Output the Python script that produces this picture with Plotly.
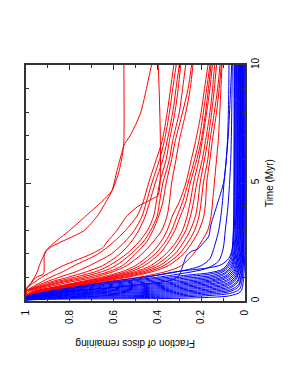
import plotly.graph_objects as go

# Time grid (Myr) for the bulk of the red (slow-dispersing) tracks
RED_T = [0, 0.2, 0.4, 0.6, 0.8, 1.0, 1.25, 1.5, 2.0, 2.5, 3.0, 3.6, 4.2, 5.0, 6.0, 6.8, 8.0, 9.0, 10.0]
RED_F = [
    [1, 1, 1, 0.97, 0.93, 0.89, 0.83, 0.78, 0.67, 0.60, 0.545, 0.493, 0.465, 0.44, 0.405, 0.378, 0.355, 0.34, 0.325],
    [1, 1, 1, 0.96, 0.91, 0.85, 0.77, 0.71, 0.61, 0.55, 0.505, 0.47, 0.45, 0.425, 0.39, 0.368, 0.345, 0.33, 0.314],
    [1, 1, 1, 0.95, 0.89, 0.81, 0.72, 0.65, 0.57, 0.52, 0.485, 0.455, 0.435, 0.41, 0.375, 0.355, 0.33, 0.315, 0.30],
    [1, 1, 1, 0.94, 0.87, 0.78, 0.68, 0.62, 0.54, 0.485, 0.445, 0.417, 0.405, 0.39, 0.36, 0.345, 0.32, 0.305, 0.294],
    [1, 1, 1, 0.93, 0.85, 0.75, 0.65, 0.59, 0.52, 0.465, 0.43, 0.401, 0.39, 0.375, 0.345, 0.33, 0.30, 0.285, 0.271],
    [1, 1, 0.99, 0.92, 0.83, 0.72, 0.62, 0.56, 0.50, 0.45, 0.42, 0.394, 0.375, 0.36, 0.335, 0.318, 0.285, 0.26, 0.244],
    [1, 1, 0.98, 0.90, 0.80, 0.69, 0.60, 0.54, 0.47, 0.42, 0.38, 0.356, 0.345, 0.335, 0.315, 0.30, 0.27, 0.25, 0.238],
    [1, 1, 0.97, 0.87, 0.76, 0.66, 0.56, 0.50, 0.43, 0.385, 0.355, 0.332, 0.30, 0.27, 0.245, 0.225, 0.20, 0.185, 0.169],
    [1, 1, 0.96, 0.86, 0.75, 0.64, 0.54, 0.48, 0.41, 0.365, 0.335, 0.31, 0.285, 0.26, 0.23, 0.21, 0.19, 0.175, 0.16],
    [1, 1, 0.96, 0.85, 0.74, 0.63, 0.52, 0.46, 0.39, 0.35, 0.32, 0.295, 0.27, 0.25, 0.22, 0.20, 0.18, 0.167, 0.155],
    [1, 1, 0.95, 0.84, 0.72, 0.61, 0.50, 0.43, 0.36, 0.315, 0.285, 0.264, 0.25, 0.235, 0.21, 0.195, 0.175, 0.16, 0.149],
    [1, 1, 0.95, 0.83, 0.71, 0.60, 0.48, 0.41, 0.34, 0.30, 0.27, 0.249, 0.235, 0.22, 0.195, 0.18, 0.16, 0.148, 0.139],
    [1, 1, 0.94, 0.82, 0.70, 0.58, 0.46, 0.39, 0.32, 0.28, 0.25, 0.226, 0.215, 0.205, 0.185, 0.17, 0.152, 0.14, 0.13],
    [1, 1, 0.94, 0.81, 0.69, 0.56, 0.44, 0.37, 0.30, 0.26, 0.23, 0.21, 0.20, 0.19, 0.17, 0.16, 0.14, 0.125, 0.114],
    [1, 1, 0.93, 0.80, 0.67, 0.54, 0.42, 0.35, 0.28, 0.24, 0.21, 0.188, 0.18, 0.175, 0.16, 0.149, 0.13, 0.118, 0.108],
    [1, 1, 0.92, 0.79, 0.65, 0.49, 0.36, 0.29, 0.235, 0.20, 0.17, 0.155, 0.148, 0.14, 0.13, 0.122, 0.115, 0.11, 0.105],
]

# Red tracks with their own sampling (kinks / flat tails)
RED_EXTRA_T = [
    [0, 0.45, 0.7, 1.0, 1.15, 2.05, 2.4, 3.0, 3.6, 4.2, 4.68, 5.5, 6.3, 6.8, 10.0],
    [0, 0.5, 0.8, 1.2, 1.6, 2.2, 2.97, 3.6, 4.2, 4.68, 5.5, 6.2, 6.6, 7.03, 7.96, 9.0, 10.0],
    [0, 0.5, 0.8, 1.0, 1.5, 2.0, 2.26, 2.5, 3.0, 3.6, 4.0, 4.3, 4.5, 10.0],
]
RED_EXTRA_F = [
    [1, 1, 0.98, 0.955, 0.92, 0.915, 0.88, 0.80, 0.727, 0.655, 0.607, 0.575, 0.558, 0.553, 0.553],
    [1, 1, 0.975, 0.95, 0.935, 0.90, 0.737, 0.674, 0.635, 0.607, 0.585, 0.565, 0.553, 0.523, 0.477, 0.45, 0.427],
    [1, 1, 0.96, 0.93, 0.83, 0.70, 0.65, 0.63, 0.584, 0.54, 0.49, 0.43, 0.396, 0.396],
]

# Blue (fast-dispersing) tracks
BLUE_T = [
    [0, 0.02, 0.11, 0.16, 0.22, 0.40, 1.0, 10],
    [0, 0.03, 0.17, 0.24, 0.32, 0.50, 1.2, 10],
    [0, 0.04, 0.22, 0.30, 0.40, 0.60, 1.3, 10],
    [0, 0.05, 0.27, 0.36, 0.46, 0.70, 1.4, 10],
    [0, 0.05, 0.32, 0.41, 0.52, 0.78, 1.5, 10],
    [0, 0.06, 0.37, 0.47, 0.58, 0.85, 1.6, 10],
    [0, 0.07, 0.42, 0.52, 0.64, 0.92, 1.7, 10],
    [0, 0.07, 0.47, 0.58, 0.70, 1.00, 1.8, 10],
    [0, 0.08, 0.52, 0.63, 0.76, 1.06, 1.9, 10],
    [0, 0.09, 0.57, 0.69, 0.82, 1.12, 2.0, 10],
    [0, 0.09, 0.62, 0.74, 0.88, 1.18, 2.1, 10],
    [0, 0.10, 0.67, 0.80, 0.94, 1.25, 2.2, 10],
    [0, 0.11, 0.72, 0.85, 1.00, 1.32, 2.3, 10],
    [0, 0.12, 0.77, 0.90, 1.06, 1.40, 2.4, 10],
    [0, 0.12, 0.82, 0.96, 1.12, 1.46, 2.5, 10],
    [0, 0.13, 0.88, 1.02, 1.18, 1.52, 2.6, 10],
    [0, 0.14, 0.94, 1.08, 1.24, 1.60, 2.7, 10],
    [0, 0.15, 1.00, 1.14, 1.30, 1.68, 2.8, 10],
    [0, 0.16, 1.06, 1.20, 1.36, 1.76, 2.9, 10],
    [0, 0.15, 0.72, 0.92, 1.24, 1.40, 1.53, 1.8, 2.2, 3.0, 10],
    [0, 0.15, 0.70, 1.20, 1.50, 1.80, 2.30, 3.0, 4.0, 5.1, 6.8, 8.5, 10],
    [0, 0.14, 0.65, 1.10, 1.40, 1.70, 2.20, 3.0, 4.0, 6.0, 10],
    [0, 0.15, 0.60, 0.90, 1.10, 1.33, 1.60, 1.90, 2.10, 2.19, 2.40, 2.76, 3.18, 4.0, 5.1, 6.8, 8.5, 10],
]
BLUE_F = [
    [1, 1, 0.32, 0.15, 0.07, 0.02, 0.006, 0.002],
    [1, 1, 0.30, 0.15, 0.07, 0.025, 0.010, 0.005],
    [1, 1, 0.30, 0.15, 0.07, 0.030, 0.012, 0.008],
    [1, 1, 0.30, 0.15, 0.07, 0.030, 0.014, 0.010],
    [1, 1, 0.30, 0.15, 0.075, 0.035, 0.016, 0.012],
    [1, 1, 0.30, 0.15, 0.075, 0.035, 0.018, 0.014],
    [1, 1, 0.30, 0.15, 0.08, 0.040, 0.020, 0.016],
    [1, 1, 0.30, 0.15, 0.08, 0.040, 0.022, 0.018],
    [1, 1, 0.30, 0.15, 0.08, 0.042, 0.025, 0.020],
    [1, 1, 0.30, 0.15, 0.085, 0.045, 0.027, 0.022],
    [1, 1, 0.30, 0.15, 0.085, 0.048, 0.030, 0.025],
    [1, 1, 0.30, 0.15, 0.09, 0.050, 0.032, 0.027],
    [1, 1, 0.30, 0.15, 0.09, 0.052, 0.035, 0.030],
    [1, 1, 0.30, 0.15, 0.09, 0.055, 0.038, 0.033],
    [1, 1, 0.30, 0.15, 0.095, 0.058, 0.040, 0.036],
    [1, 1, 0.30, 0.15, 0.095, 0.060, 0.043, 0.039],
    [1, 1, 0.30, 0.15, 0.10, 0.062, 0.046, 0.042],
    [1, 1, 0.30, 0.16, 0.10, 0.065, 0.050, 0.045],
    [1, 1, 0.30, 0.16, 0.10, 0.068, 0.053, 0.048],
    [1, 1, 0.68, 0.50, 0.317, 0.17, 0.11, 0.075, 0.058, 0.053, 0.050],
    [1, 1, 0.70, 0.33, 0.20, 0.16, 0.14, 0.12, 0.105, 0.095, 0.078, 0.068, 0.061],
    [1, 1, 0.70, 0.33, 0.17, 0.12, 0.10, 0.09, 0.078, 0.065, 0.058],
    [1, 1, 0.58, 0.33, 0.30, 0.29, 0.28, 0.268, 0.245, 0.218, 0.195, 0.165, 0.157, 0.13, 0.096, 0.08, 0.075, 0.073],
]

FRAC_TICKS = [1, 0.8, 0.6, 0.4, 0.2, 0]
FRAC_LABELS = ["1", "0.8", "0.6", "0.4", "0.2", "0"]
TIME_TICKS = [0, 5, 10]
TIME_LABELS = ["0", "5", "10"]

RED = "#ff0000"
BLUE = "#0000ff"
FONT = "Liberation Sans, Arial, sans-serif"

fig = go.Figure()
for f in RED_F:
    fig.add_trace(go.Scatter(x=f, y=RED_T, mode="lines",
                             line=dict(color=RED, width=1, shape="spline", smoothing=0.8),
                             hoverinfo="skip"))
for t, f in zip(RED_EXTRA_T, RED_EXTRA_F):
    fig.add_trace(go.Scatter(x=f, y=t, mode="lines",
                             line=dict(color=RED, width=1, shape="spline", smoothing=0.6),
                             hoverinfo="skip"))
for t, f in zip(BLUE_T, BLUE_F):
    fig.add_trace(go.Scatter(x=f, y=t, mode="lines",
                             line=dict(color=BLUE, width=1, shape="spline", smoothing=0.8),
                             hoverinfo="skip"))

axis_common = dict(
    showgrid=False, zeroline=False, showline=True, linecolor="#333333", linewidth=2,
    mirror="allticks", ticks="inside", ticklen=5, tickwidth=1, tickcolor="#333333",
    tickfont=dict(family=FONT, size=10, color="black"), tickangle=-90,
    automargin=False,
)

# page body adds an 8px offset, so the figure is sized to fit the 298x385 window
fig.update_layout(
    width=290, height=377,
    margin=dict(l=18, r=53, t=57, b=84),
    paper_bgcolor="white", plot_bgcolor="white",
    showlegend=False,
    xaxis=dict(range=[1, 0], tickvals=FRAC_TICKS, ticktext=FRAC_LABELS,
               minor=dict(dtick=0.1, ticks="inside", ticklen=3, tickcolor="#333333"),
               ticklabelstandoff=3, **axis_common),
    yaxis=dict(range=[0, 10], side="right", tickvals=TIME_TICKS, ticktext=TIME_LABELS,
               minor=dict(dtick=1, ticks="inside", ticklen=3, tickcolor="#333333"),
               ticklabelstandoff=0, **axis_common),
    annotations=[
        dict(text="Fraction of discs remaining", xref="paper", yref="paper",
             x=0.5, y=-0.18, xanchor="center", yanchor="middle",
             textangle=180, showarrow=False,
             font=dict(family=FONT, size=10, color="black")),
        dict(text="Time (Myr)", xref="paper", yref="paper",
             x=1.11, y=0.5, xanchor="center", yanchor="middle",
             textangle=-90, showarrow=False,
             font=dict(family=FONT, size=10, color="black")),
    ],
)

fig.write_html("out.html")
